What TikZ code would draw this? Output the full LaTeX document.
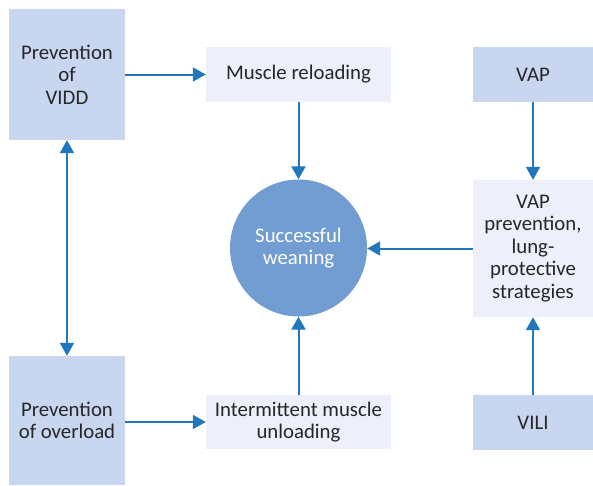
\documentclass[tikz,border=0pt]{standalone}
\usepackage{fontspec}
\setmainfont{Carlito}
\usetikzlibrary{arrows.meta}
\definecolor{boxdark}{HTML}{C9D6F0}
\definecolor{boxlight}{HTML}{EDF0FB}
\definecolor{goalfill}{HTML}{729DD2}
\definecolor{arrowblue}{HTML}{2277BB}
\definecolor{textgray}{HTML}{262626}
\begin{document}
\begin{tikzpicture}[x=1pt,y=-1pt,
  base/.style={inner sep=0pt, align=center, text=textgray,
    font=\fontsize{20.8}{22.5}\selectfont},
  darkbox/.style={base, fill=boxdark},
  lightbox/.style={base, fill=boxlight},
  goal/.style={base, circle, fill=goalfill, text=white, minimum size=137pt},
  arr/.style={draw=arrowblue, line width=2pt,
    -{Triangle[length=13pt,width=14pt]}},
  dblarr/.style={arr, {Triangle[length=13pt,width=14pt]}-{Triangle[length=13pt,width=14pt]}}
]
\useasboundingbox (0,0) rectangle (593,485);

% left column
\node[darkbox, minimum width=116pt, minimum height=131pt] (vidd) at (67,74.5) {Prevention\\of\\VIDD};
\node[darkbox, minimum width=116pt, minimum height=129pt] (overload) at (67,420.5) {Prevention\\of overload};

% middle column
\node[lightbox, minimum width=185pt, minimum height=55pt] (reload) at (298.5,74.5) {Muscle reloading};
\node[goal] (wean) at (298.5,248) {Successful\\weaning};
\node[lightbox, minimum width=185pt, minimum height=54pt] (unload) at (298.5,422) {Intermittent muscle\\unloading};

% right column
\node[darkbox, minimum width=120pt, minimum height=55pt] (vap) at (533,74.5) {VAP};
\node[lightbox, minimum width=120pt, minimum height=137pt] (prev) at (533,248.5) {VAP\\prevention,\\lung-\\protective\\strategies};
\node[darkbox, minimum width=120pt, minimum height=55pt] (vili) at (533,422.5) {VILI};

% connectors
\draw[arr] (vidd.east |- reload.west) -- (reload.west);
\draw[arr] (overload.east |- unload.west) -- (unload.west);
\draw[dblarr] (vidd.south) -- (overload.north);
\draw[arr] (reload.south) -- (wean.north);
\draw[arr] (unload.north) -- (wean.south);
\draw[arr] (vap.south) -- (prev.north);
\draw[arr] (vili.north) -- (prev.south);
\draw[arr] (prev.west) -- (prev.west -| wean.east);
\end{tikzpicture}
\end{document}
